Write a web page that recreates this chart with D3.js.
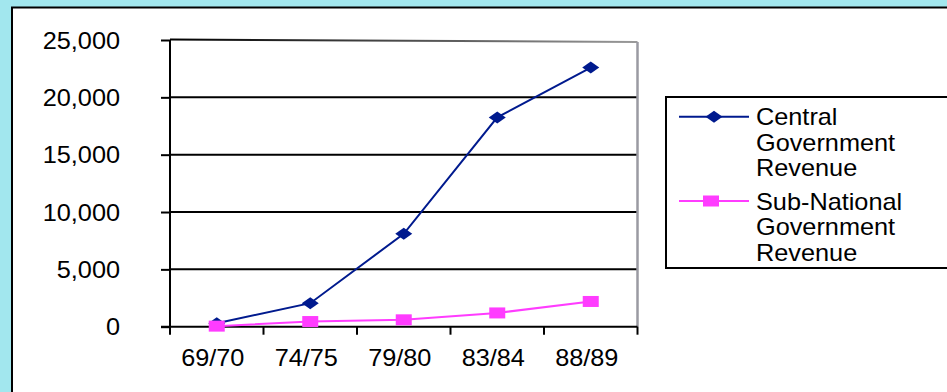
<!DOCTYPE html>
<html>
<head>
<meta charset="utf-8">
<script src="https://cdn.jsdelivr.net/npm/d3@7/dist/d3.min.js"></script>
<style>
  html, body { margin: 0; padding: 0; background: #a2e7ee; }
  svg { display: block; }
  text { font-family: "Liberation Sans", Arial, sans-serif; fill: #000; }
</style>
</head>
<body>
<svg id="chart" width="947" height="392"></svg>
<script>
// Revenue by fiscal year
const categories = ["69/70", "74/75", "79/80", "83/84", "88/89"];
const centralRevenue = [300, 2050, 8100, 18250, 22600];
const subNationalRevenue = [50, 450, 600, 1200, 2200];
const yTicks = [0, 5000, 10000, 15000, 20000, 25000];
const seriesNames = [
  ["Central", "Government", "Revenue"],
  ["Sub-National", "Government", "Revenue"]
];

const W = 947, H = 392;
const plot = { left: 170, right: 637.5, top: 40, bottom: 326.7 };
const navy = "#001a8e", magenta = "#ff3cff";

const svg = d3.select("#chart");

// Outer panel
svg.append("rect").attr("x", 0).attr("y", 0).attr("width", W).attr("height", H).attr("fill", "#a2e7ee");
svg.append("rect").attr("x", 12).attr("y", 7.5).attr("width", W + 20).attr("height", H + 20)
  .attr("fill", "#fff").attr("stroke", "#000").attr("stroke-width", 2);

const x = d3.scaleBand().domain(categories).range([plot.left, plot.right]);
const y = d3.scaleLinear().domain([0, 25000]).range([plot.bottom, plot.top]);
const cx = d => x(d) + x.bandwidth() / 2;

// Gridlines
svg.append("g").selectAll("line").data(yTicks.slice(1, -1)).join("line")
  .attr("x1", plot.left).attr("x2", plot.right)
  .attr("y1", d => y(d)).attr("y2", d => y(d))
  .attr("stroke", "#000").attr("stroke-width", 2);

// Plot frame: top and right edges fade to grey
const grad = svg.append("defs").append("linearGradient").attr("id", "topEdge")
  .attr("gradientUnits", "userSpaceOnUse")
  .attr("x1", plot.left).attr("x2", plot.right).attr("y1", 0).attr("y2", 0);
grad.append("stop").attr("offset", 0).attr("stop-color", "#000");
grad.append("stop").attr("offset", 1).attr("stop-color", "#9a9a9a");
svg.append("line").attr("x1", plot.left).attr("x2", plot.right)
  .attr("y1", y(25000) - 0.5).attr("y2", y(25000) + 2)
  .attr("stroke", "url(#topEdge)").attr("stroke-width", 2);
svg.append("line").attr("x1", plot.right).attr("x2", plot.right)
  .attr("y1", y(25000) + 2).attr("y2", plot.bottom)
  .attr("stroke", "#9a9aa2").attr("stroke-width", 2.5);

// Y axis
const yAxis = svg.append("g").attr("transform", `translate(${plot.left},0)`)
  .call(d3.axisLeft(y).tickValues(yTicks).tickSize(9).tickPadding(0)
    .tickFormat(d3.format(",")));
yAxis.select(".domain").attr("stroke", "#000").attr("stroke-width", 2)
  .attr("d", `M0,${plot.top}V${plot.bottom + 7}`);
yAxis.selectAll(".tick line").attr("stroke", "#000").attr("stroke-width", 2);
yAxis.selectAll(".tick text").attr("font-size", 23).attr("font-family", "Liberation Sans, Arial, sans-serif")
  .attr("fill", "#000").attr("x", null).attr("dy", null).attr("text-anchor", "end")
  .attr("transform", "translate(-50,8) scale(1.1,1)");

// X axis
const xAxis = svg.append("g").attr("transform", `translate(0,${plot.bottom})`)
  .call(d3.axisBottom(x).tickSize(0).tickPadding(0));
xAxis.select(".domain").attr("stroke", "#000").attr("stroke-width", 2)
  .attr("d", `M${plot.left - 9},0H${plot.right}`);
xAxis.selectAll(".tick text").attr("font-size", 23).attr("font-family", "Liberation Sans, Arial, sans-serif")
  .attr("fill", "#000").attr("y", null).attr("dy", null)
  .attr("transform", "translate(-4,39) scale(1.1,1)");
// Boundary ticks between categories
const bounds = categories.map(d => x(d)).concat([plot.right]);
svg.append("g").selectAll("line").data(bounds).join("line")
  .attr("x1", d => d).attr("x2", d => d)
  .attr("y1", plot.bottom).attr("y2", plot.bottom + 8)
  .attr("stroke", "#000").attr("stroke-width", 2);

// Markers
const diamond = (g, w, h) => g.append("path")
  .attr("d", `M${-w / 2},0L0,${-h / 2}L${w / 2},0L0,${h / 2}Z`).attr("fill", navy);
const square = (g, w, h) => g.append("rect")
  .attr("x", -w / 2).attr("y", -h / 2).attr("width", w).attr("height", h).attr("fill", magenta);

const line = d3.line().x((d, i) => cx(categories[i])).y(d => y(d));

// Central series
svg.append("path").datum(centralRevenue).attr("d", line)
  .attr("fill", "none").attr("stroke", navy).attr("stroke-width", 2);
svg.append("g").selectAll("g").data(centralRevenue).join("g")
  .attr("transform", (d, i) => `translate(${cx(categories[i])},${y(d)})`)
  .each(function () { diamond(d3.select(this), 17, 12); });

// Sub-national series
svg.append("path").datum(subNationalRevenue).attr("d", line)
  .attr("fill", "none").attr("stroke", magenta).attr("stroke-width", 2);
svg.append("g").selectAll("g").data(subNationalRevenue).join("g")
  .attr("transform", (d, i) => `translate(${cx(categories[i])},${y(d)})`)
  .each(function () { square(d3.select(this), 16, 11); });

// Legend
const legend = svg.append("g");
legend.append("rect").attr("x", 666).attr("y", 97).attr("width", 320).attr("height", 171)
  .attr("fill", "#fff").attr("stroke", "#000").attr("stroke-width", 2);
const entries = [
  { color: navy, y: 116.7, marker: g => diamond(g, 17, 12), baseline: 125 },
  { color: magenta, y: 201, marker: g => square(g, 16, 11), baseline: 209.5 }
];
entries.forEach((e, k) => {
  legend.append("line").attr("x1", 679).attr("x2", 749).attr("y1", e.y).attr("y2", e.y)
    .attr("stroke", e.color).attr("stroke-width", 2);
  e.marker(legend.append("g").attr("transform", `translate(${k === 0 ? 714 : 711},${e.y})`));
  seriesNames[k].forEach((t, j) => {
    legend.append("text").attr("font-size", 23)
      .attr("transform", `translate(756,${e.baseline + j * 25.5}) scale(1.1,1)`)
      .text(t);
  });
});
</script>
</body>
</html>
